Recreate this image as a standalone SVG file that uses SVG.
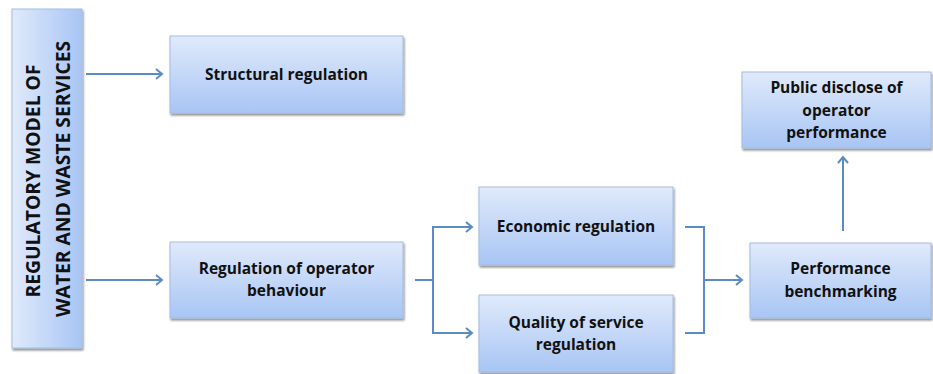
<svg xmlns="http://www.w3.org/2000/svg" width="933" height="374" viewBox="0 0 933 374">
<style>
.box{fill:url(#g);stroke:#a3bde3;stroke-width:1;filter:url(#sh)}
.t{font-family:"Open Sans",Lato,"Liberation Sans",sans-serif;font-weight:bold;font-size:15.5px;fill:#111;text-anchor:middle}
.tl{font-family:"Open Sans",Lato,"Liberation Sans",sans-serif;font-weight:bold;font-size:19.3px;fill:#111;text-anchor:middle}
.c{fill:none;stroke:#5b8bc6;stroke-width:2}
</style>
<defs>
<linearGradient id="g" x1="0" y1="0" x2="0" y2="1">
<stop offset="0" stop-color="#e0eafb"/>
<stop offset="1" stop-color="#a8c5f4"/>
</linearGradient>
<linearGradient id="gh" x1="0" y1="0" x2="1" y2="0">
<stop offset="0" stop-color="#e0eafb"/>
<stop offset="1" stop-color="#a8c5f4"/>
</linearGradient>
<filter id="sh" x="-10%" y="-10%" width="125%" height="130%">
<feGaussianBlur in="SourceAlpha" stdDeviation="1.2"/>
<feOffset dx="1" dy="2" result="b"/>
<feComponentTransfer><feFuncA type="linear" slope="0.45"/></feComponentTransfer>
<feMerge><feMergeNode/><feMergeNode in="SourceGraphic"/></feMerge>
</filter>
<marker id="ah" markerWidth="12" markerHeight="12" refX="9" refY="6" orient="auto" markerUnits="userSpaceOnUse">
<path d="M3,1 L9,6 L3,11" fill="none" stroke="#5b8bc6" stroke-width="2"/>
</marker>
</defs>

<g id="node-model">
<rect class="box" x="12" y="9" width="70" height="339" style="fill:url(#gh)"/>
<text class="tl" transform="translate(40,181) rotate(-90)">REGULATORY MODEL OF</text>
<text class="tl" transform="translate(70,179) rotate(-90)">WATER AND WASTE SERVICES</text>
</g>

<g id="node-structural">
<rect class="box" x="170" y="36" width="233" height="77"/>
<text class="t" x="286.5" y="80">Structural regulation</text>
</g>

<g id="node-behaviour">
<rect class="box" x="170" y="242" width="233" height="76"/>
<text class="t" x="286.5" y="274">Regulation of operator</text>
<text class="t" x="286.5" y="296">behaviour</text>
</g>

<g id="node-economic">
<rect class="box" x="479" y="187" width="194" height="78"/>
<text class="t" x="576" y="232">Economic regulation</text>
</g>

<g id="node-quality">
<rect class="box" x="479" y="295" width="194" height="77"/>
<text class="t" x="576" y="328">Quality of service</text>
<text class="t" x="576" y="350">regulation</text>
</g>

<g id="node-benchmarking">
<rect class="box" x="750" y="243" width="181" height="75"/>
<text class="t" x="840.5" y="274">Performance</text>
<text class="t" x="840.5" y="297">benchmarking</text>
</g>

<g id="node-disclose">
<rect class="box" x="742" y="72" width="189" height="76"/>
<text class="t" x="836.5" y="93">Public disclose of</text>
<text class="t" x="836.5" y="116">operator</text>
<text class="t" x="836.5" y="138">performance</text>
</g>

<g id="connectors">
<line class="c" x1="86" y1="74" x2="162" y2="74" marker-end="url(#ah)"/>
<line class="c" x1="86" y1="280" x2="162" y2="280" marker-end="url(#ah)"/>
<polyline class="c" points="415,280 433,280"/>
<polyline class="c" points="472,227 433,227 433,333 472,333" marker-end="url(#ah)"/>
<line class="c" x1="433" y1="227" x2="472" y2="227" marker-end="url(#ah)"/>
<polyline class="c" points="685,227 704,227 704,333 685,333"/>
<line class="c" x1="704" y1="280" x2="742" y2="280" marker-end="url(#ah)"/>
<line class="c" x1="843" y1="231" x2="843" y2="157" marker-end="url(#ah)"/>
</g>
</svg>
